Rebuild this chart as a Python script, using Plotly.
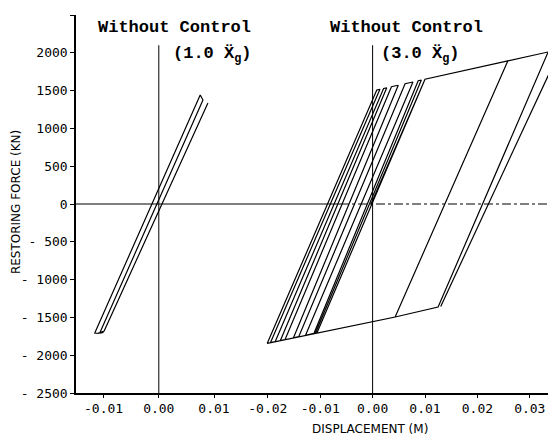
import plotly.graph_objects as go

# ---- data ----
# left panel: without control, 1.0 x ground acceleration
left_disp = [0.0089, -0.0099, -0.0110, -0.0116, 0.0075, 0.0080, -0.0107, -0.0100]
left_force = [1336, -1680, -1712, -1707, 1442, 1376, -1707, -1700]

# right panel: without control, 3.0 x ground acceleration
right_disp = [-0.0003, 0.0100, 0.0258, 0.0043, -0.0201, 0.0008, 0.0014, -0.0195,
              -0.0186, 0.0021, 0.0027, -0.0176, -0.0167, 0.0036, 0.0049, -0.0151,
              -0.0141, 0.0062, 0.0077, -0.0128, -0.0112, 0.0087, 0.0093, -0.0109,
              -0.0106, 0.0100, 0.0335, 0.0125, 0.0043, None, 0.0130, 0.0358]
right_force = [0, 1650, 1892, -1495, -1843, 1508, 1517, -1834,
               -1821, 1528, 1537, -1806, -1793, 1551, 1571, -1770,
               -1755, 1591, 1614, -1736, -1712, 1630, 1640, -1707,
               -1703, 1650, 2011, -1363, -1495, None, -1356, 2040]

y_ticks = [2500, 2000, 1500, 1000, 500, 0, -500, -1000, -1500, -2000, -2500]
y_labels = ["2500", "2000", "1500", "1000", "500", "0", "- 500", "- 1000", "- 1500", "- 2000", "- 2500"]
x1_ticks = [-0.01, 0.0, 0.01]
x1_labels = ["-0.01", "0.00", "0.01"]
x2_ticks = [-0.02, -0.01, 0.0, 0.01, 0.02, 0.03]
x2_labels = ["-0.02", "-0.01", "0.00", "0.01", "0.02", "0.03"]

fig = go.Figure()
fig.add_trace(go.Scatter(x=left_disp, y=left_force, mode="lines", xaxis="x", yaxis="y",
                         line=dict(color="black", width=1.2), showlegend=False, hoverinfo="skip"))
fig.add_trace(go.Scatter(x=right_disp, y=right_force, mode="lines", xaxis="x2", yaxis="y",
                         line=dict(color="black", width=1.2), showlegend=False, hoverinfo="skip",
                         connectgaps=False))

tick_font = dict(family="DejaVu Sans Mono", size=13, color="black")
split = 0.345
fig.update_layout(
    width=548, height=433,
    margin=dict(l=68, r=0, t=7, b=48),
    paper_bgcolor="white", plot_bgcolor="white",
    xaxis=dict(domain=[0, split], range=[-0.015, 0.015], tickvals=x1_ticks, ticktext=x1_labels,
               showline=True, linecolor="black", linewidth=1.5, ticks="outside", ticklen=3,
               tickcolor="black", showgrid=False, zeroline=False, tickfont=tick_font, anchor="y"),
    xaxis2=dict(domain=[split, 1], range=[-0.025, 0.035], tickvals=x2_ticks, ticktext=x2_labels,
                showline=True, linecolor="black", linewidth=1.5, ticks="outside", ticklen=3,
                tickcolor="black", showgrid=False, zeroline=False, tickfont=tick_font, anchor="y"),
    yaxis=dict(range=[-2500, 2500], tickvals=y_ticks, ticktext=y_labels,
               showline=True, linecolor="black", linewidth=1.5, ticks="outside", ticklen=4,
               tickcolor="black", showgrid=False, zeroline=False, tickfont=tick_font, anchor="x"),
)

# reference lines (zero displacement / zero force)
fig.add_shape(type="line", xref="x", yref="y", x0=0, x1=0, y0=-2500, y1=2100,
              line=dict(color="black", width=1))
fig.add_shape(type="line", xref="x2", yref="y", x0=0, x1=0, y0=-2500, y1=2100,
              line=dict(color="black", width=1))
fig.add_shape(type="line", xref="paper", yref="y", x0=0, x1=0.55, y0=0, y1=0,
              line=dict(color="black", width=1))
fig.add_shape(type="line", xref="paper", yref="y", x0=0.55, x1=1, y0=0, y1=0,
              line=dict(color="black", width=1, dash="dashdot"))

title_font = dict(family="Liberation Mono", size=17, color="black", weight="bold")
fig.add_annotation(text="<b>Without Control</b>", xref="paper", yref="paper", x=0.206, y=0.968,
                   showarrow=False, font=title_font, xanchor="center", yanchor="middle")
fig.add_annotation(text="<b>(1.0 Ẍ<sub>g</sub>)</b>", xref="paper", yref="paper", x=0.285, y=0.893,
                   showarrow=False, font=title_font, xanchor="center", yanchor="middle")
fig.add_annotation(text="<b>Without Control</b>", xref="paper", yref="paper", x=0.6875, y=0.968,
                   showarrow=False, font=title_font, xanchor="center", yanchor="middle")
fig.add_annotation(text="<b>(3.0 Ẍ<sub>g</sub>)</b>", xref="paper", yref="paper", x=0.717, y=0.893,
                   showarrow=False, font=title_font, xanchor="center", yanchor="middle")

axis_font = dict(family="DejaVu Sans", size=12, color="black")
fig.add_annotation(text="DISPLACEMENT (M)", xref="paper", yref="paper", x=0.6125, y=-0.095,
                   showarrow=False, font=axis_font, xanchor="center", yanchor="middle")
fig.add_annotation(text="RESTORING FORCE (KN)", xref="paper", yref="paper", x=-0.125, y=0.505,
                   showarrow=False, font=dict(family="DejaVu Sans", size=12, color="black"),
                   textangle=-90, xanchor="center", yanchor="middle")

fig.write_html("out.html")
